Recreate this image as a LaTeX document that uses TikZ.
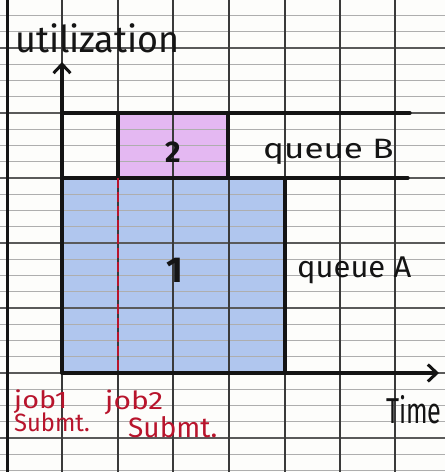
\documentclass[tikz,border=0pt]{standalone}
\usepackage{fontspec}
\setmainfont{Fira Sans}
\usetikzlibrary{arrows.meta}
\definecolor{ink}{HTML}{141414}
\definecolor{redink}{HTML}{B8142C}
\definecolor{bluefill}{HTML}{B0C6EE}
\definecolor{pinkfill}{HTML}{E4B8F2}
\definecolor{gridv}{HTML}{3A3A3A}
\definecolor{gridh}{HTML}{AEAEAE}
\definecolor{gridhh}{HTML}{5A5A5A}
\definecolor{paper}{HTML}{FDFDFB}
\begin{document}
\begin{tikzpicture}[x=1pt,y=-1pt,
  finegrid/.style={gridh, line width=0.8pt},
  heavygrid/.style={gridhh, line width=1.2pt},
  vgrid/.style={gridv, line width=1.3pt},
  marginline/.style={ink, line width=3pt},
  bold/.style={ink, line width=3.4pt, line cap=round},
  axis/.style={bold, -{Straight Barb[length=9pt,width=17pt,line width=3pt]}},
  reddash/.style={redink, line width=2.8pt, dash pattern=on 10pt off 4pt},
  hand/.style={ink, inner sep=0pt},
  redhand/.style={redink, inner sep=0pt},
  area/.style={inner sep=0pt, anchor=north west, draw=none}]
\fill[paper] (0,0) rectangle (445,472);
\useasboundingbox (0,0) rectangle (445,472);
% coloured areas
\node[area, fill=bluefill, minimum width=222pt, minimum height=194pt] (qa) at (63,179) {};
\node[area, fill=pinkfill, minimum width=110pt, minimum height=65pt] (job2box) at (118,113) {};
% paper grid
\foreach \k in {0,...,29} \draw[finegrid] (0,{-0.75+16.25*\k}) -- (445,{-0.75+16.25*\k});
\foreach \y in {48,113,178,243,308,373,438} \draw[heavygrid] (0,\y) -- (445,\y);
\foreach \x in {62,118,173,229,285,340,395} \draw[vgrid] (\x,0) -- (\x,472);
\draw[marginline] (7,0) -- (7,472);
% coordinates
\coordinate (O) at (62,373);
\coordinate (ytip) at (62,62);
\coordinate (xtip) at (439,373);
\coordinate (bTopL) at (62,113);
\coordinate (bTopR) at (410,113);
\coordinate (bMidL) at (62,178);
\coordinate (bMidR) at (408,178);
\coordinate (p1) at (118,113);
\coordinate (p2) at (118,178);
\coordinate (p3) at (228,113);
\coordinate (p4) at (228,178);
\coordinate (aTop) at (285,178);
\coordinate (aBot) at (285,373);
\coordinate (dBot) at (118,373);
% bold lines
\draw[bold] (bTopL) -- (bTopR);
\draw[bold] (bMidL) -- (bMidR);
\draw[bold] (p1) -- (p2);
\draw[bold] (p3) -- (p4);
\draw[bold] (aTop) -- (aBot);
\draw[reddash] (p2) -- (dBot);
\draw[axis] (O) -- (ytip);
\draw[axis] (O) -- (xtip);
% labels
\node[hand, anchor=base west, font=\fontsize{37}{37}\selectfont] (ylab) at (15,52) {\scalebox{0.97}[1]{utilization}};
\node[hand, font=\bfseries\fontsize{30}{30}\selectfont] (two) at (173,152) {2};
\node[hand, font=\bfseries\fontsize{36}{36}\selectfont] (one) at (175,270) {1};
\node[hand, anchor=base west, font=\fontsize{28}{28}\selectfont] (qb) at (263,158) {\scalebox{1.25}[1]{queue B}};
\node[hand, anchor=base west, font=\fontsize{30}{30}\selectfont] (qalab) at (297,277) {\scalebox{1.03}[1]{queue A}};
\node[hand, anchor=base west, font=\fontsize{36}{36}\selectfont] (xlab) at (386,423) {\scalebox{0.7}[1]{Time}};
\node[redhand, anchor=base west, font=\fontsize{24}{24}\selectfont] (j1a) at (14,408) {\scalebox{1.2}[1]{job1}};
\node[redhand, anchor=base west, font=\fontsize{25}{25}\selectfont] (j1b) at (14,431) {\scalebox{0.95}[1]{Submt.}};
\node[redhand, anchor=base west, font=\fontsize{25}{25}\selectfont] (j2a) at (105,409) {\scalebox{1.2}[1]{job2}};
\node[redhand, anchor=base west, font=\fontsize{28}{28}\selectfont] (j2b) at (128,437) {Submt.};
\end{tikzpicture}
\end{document}
